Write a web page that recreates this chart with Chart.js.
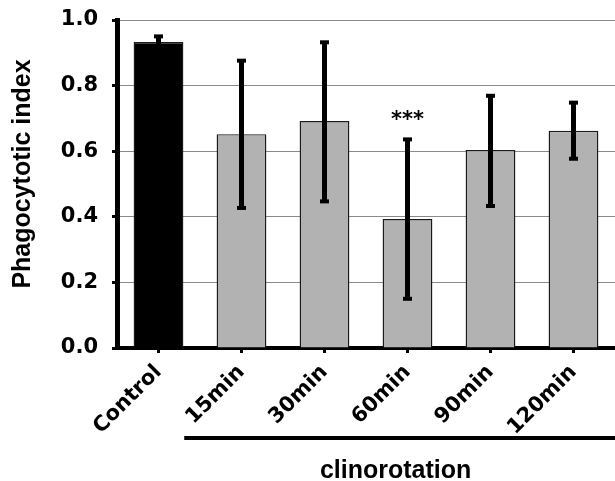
<!DOCTYPE html>
<html>
<head>
<meta charset="utf-8">
<script src="https://cdn.jsdelivr.net/npm/chart.js@4"></script>
<style>
  html, body { margin: 0; padding: 0; background: #fff; }
  #wrap { width: 615px; height: 481px; position: relative; }
</style>
</head>
<body>
<div id="wrap"><canvas id="c" width="615" height="481"></canvas></div>
<script>
// ---- data ----
const categories = ['Control', '15min', '30min', '60min', '90min', '120min'];
const meanValues = [0.933, 0.652, 0.692, 0.393, 0.604, 0.662];
const errHigh    = [0.950, 0.876, 0.932, 0.636, 0.769, 0.748];
const errLow     = [0.915, 0.427, 0.447, 0.150, 0.433, 0.577];
const significance = ['', '', '', '***', '', ''];
const barColors  = ['#000000', '#b2b2b2', '#b2b2b2', '#b2b2b2', '#b2b2b2', '#b2b2b2'];
const yTicks = [0, 0.2, 0.4, 0.6, 0.8, 1.0];
const yTitle = 'Phagocytotic index';
const groupLabel = 'clinorotation';
const groupStart = 1; // first category in the clinorotation group

const errorBars = {
  id: 'errorBars',
  afterDatasetsDraw(chart) {
    const ctx = chart.ctx;
    const x = chart.scales.x, y = chart.scales.y;
    ctx.save();
    ctx.fillStyle = '#000';
    ctx.strokeStyle = '#000';
    categories.forEach((c, i) => {
      const px = x.getPixelForValue(i);
      const yh = y.getPixelForValue(errHigh[i]);
      const yl = y.getPixelForValue(errLow[i]);
      ctx.lineWidth = 5;
      ctx.beginPath();
      ctx.moveTo(px, yh);
      ctx.lineTo(px, yl);
      ctx.stroke();
      ctx.fillRect(px - 4.5, yh - 2, 9, 4);
      ctx.fillRect(px - 4.5, yl - 2, 9, 4);
      if (significance[i]) {
        ctx.font = 'bold 21px "DejaVu Sans"';
        ctx.textAlign = 'center';
        ctx.textBaseline = 'alphabetic';
        ctx.fillText(significance[i], px, yh - 13);
      }
    });
    ctx.restore();
  },
  afterDraw(chart) {
    const ctx = chart.ctx;
    const x = chart.scales.x;
    const area = chart.chartArea;
    ctx.save();
    // y axis title
    ctx.fillStyle = '#000';
    ctx.font = 'bold 25px "Liberation Sans"';
    ctx.textAlign = 'center';
    ctx.textBaseline = 'middle';
    ctx.translate(23, (area.top + area.bottom) / 2 - 10);
    ctx.rotate(-Math.PI / 2);
    ctx.fillText(yTitle, 0, 0);
    ctx.restore();

    // group bracket line
    ctx.save();
    const step = x.getPixelForValue(1) - x.getPixelForValue(0);
    const x0 = x.getPixelForValue(groupStart) - step * 0.69;
    const x1 = chart.width;
    ctx.fillStyle = '#000';
    ctx.fillRect(x0, 436, x1 - x0, 4);
    ctx.font = 'bold 25px "Liberation Sans"';
    ctx.textAlign = 'center';
    ctx.textBaseline = 'alphabetic';
    ctx.fillText(groupLabel, (x0 + x1) / 2 - 4, 478);
    ctx.restore();
  }
};

new Chart(document.getElementById('c'), {
  type: 'bar',
  data: {
    labels: categories,
    datasets: [{
      data: meanValues,
      backgroundColor: barColors,
      borderColor: '#1a1a1a',
      borderWidth: 1.4,
      barPercentage: 0.6,
      categoryPercentage: 1.0
    }]
  },
  options: {
    responsive: false,
    animation: false,
    events: [],
    layout: { padding: { top: 20, right: 0, left: 0, bottom: 0 } },
    plugins: { legend: { display: false }, tooltip: { enabled: false } },
    scales: {
      x: {
        afterFit(scale) { scale.height = 133; scale.paddingRight = 0; scale.paddingLeft = 0; },
        grid: {
          offset: false,
          drawOnChartArea: false,
          drawTicks: true,
          tickLength: 5,
          tickColor: '#000',
          tickWidth: 3
        },
        border: { color: '#000', width: 4 },
        ticks: {
          color: '#000',
          font: { family: 'DejaVu Sans', weight: 'bold', size: 21 },
          minRotation: 45,
          maxRotation: 45,
          padding: 7,
          autoSkip: false
        }
      },
      y: {
        min: 0,
        max: 1,
        afterFit(scale) { scale.width = 117; scale.paddingTop = 0; scale.paddingBottom = 0; },
        afterBuildTicks(scale) { scale.ticks = yTicks.map(v => ({ value: v })); },
        grid: {
          color: '#8a8a8a',
          lineWidth: 1,
          drawTicks: true,
          tickLength: 5,
          tickColor: '#000',
          tickWidth: 3
        },
        border: { color: '#000', width: 5 },
        ticks: {
          color: '#000',
          font: { family: 'DejaVu Sans', weight: 'bold', size: 21 },
          padding: 14,
          callback: v => Number(v).toFixed(1)
        }
      }
    }
  },
  plugins: [errorBars]
});
</script>
</body>
</html>
